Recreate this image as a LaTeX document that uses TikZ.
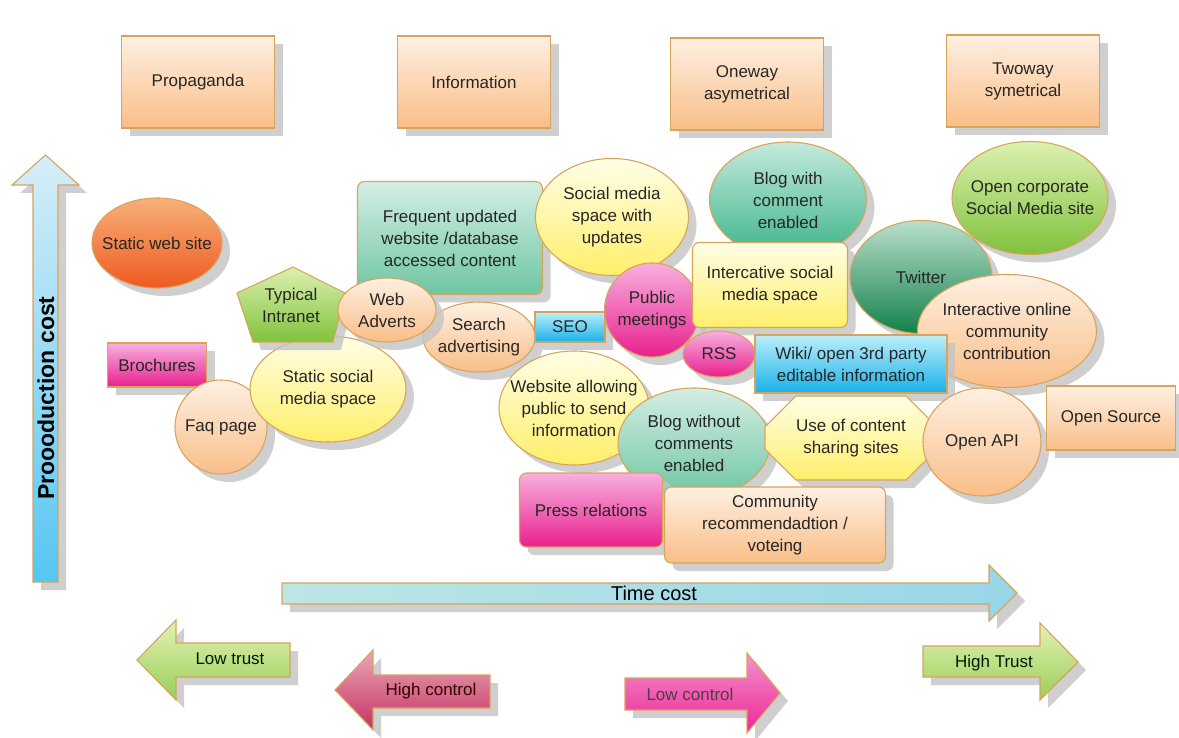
\documentclass[tikz,border=0pt]{standalone}
\usepackage{fontspec}
\setmainfont{Liberation Sans}
\usepackage{tikz}
\usetikzlibrary{shapes.geometric,shapes.misc,shadows}
\definecolor{edgeor}{HTML}{D8A45C}
\definecolor{peachtop}{HTML}{FEF0E2}
\definecolor{peachbot}{HTML}{F9BE88}
\definecolor{redtop}{HTML}{F8B07A}
\definecolor{redbot}{HTML}{EE5A20}
\definecolor{magtop}{HTML}{F8B0DE}
\definecolor{magbot}{HTML}{E8208E}
\definecolor{yeltop}{HTML}{FFFEE6}
\definecolor{yelbot}{HTML}{FFEF6A}
\definecolor{tealtop}{HTML}{D4EEE4}
\definecolor{tealbot}{HTML}{6EC6A2}
\definecolor{bwtop}{HTML}{C4EADB}
\definecolor{bwbot}{HTML}{3BB488}
\definecolor{greentop}{HTML}{DCF1B0}
\definecolor{greenbot}{HTML}{80C23C}
\definecolor{twtop}{HTML}{B9E0CC}
\definecolor{twbot}{HTML}{13804A}
\definecolor{cyantop}{HTML}{BCEEFA}
\definecolor{cyanbot}{HTML}{18B2EA}
\definecolor{trusttop}{HTML}{E4F2B4}
\definecolor{trustbot}{HTML}{98CE58}
\definecolor{hctop}{HTML}{E9A7B8}
\definecolor{hcbot}{HTML}{C43260}
\definecolor{lctop}{HTML}{F690CC}
\definecolor{lcbot}{HTML}{EA2896}
\definecolor{skytop}{HTML}{D6EEF8}
\definecolor{skybot}{HTML}{56C6F2}
\definecolor{timetop}{HTML}{BCE6E4}
\definecolor{timebot}{HTML}{98D6E8}
\definecolor{shadowgray}{HTML}{C4C4C4}

\begin{document}
\begin{tikzpicture}[
  x=1pt, y=-1pt,
  every node/.style={font=\fontsize{17}{22}\selectfont, text=black!85, align=center},
  base/.style={draw=edgeor, line width=1.1pt,
               drop shadow={shadow xshift=8pt, shadow yshift=-8pt, fill=shadowgray, opacity=0.8}},
  boxnode/.style={base, rectangle, inner sep=2pt},
  roundbox/.style={boxnode, rounded corners=7pt},
  bubble/.style={base, ellipse, inner xsep=-40pt, inner ysep=-30pt},
  fillpeach/.style={top color=peachtop, bottom color=peachbot},
  fillred/.style={top color=redtop, bottom color=redbot},
  fillmag/.style={top color=magtop, bottom color=magbot},
  fillyel/.style={top color=yeltop, bottom color=yelbot},
  fillteal/.style={top color=tealtop, bottom color=tealbot},
  fillbw/.style={top color=bwtop, bottom color=bwbot},
  fillgreen/.style={top color=greentop, bottom color=greenbot},
  filltw/.style={top color=twtop, bottom color=twbot},
  fillcyan/.style={top color=cyantop, bottom color=cyanbot},
  filltrust/.style={top color=trusttop, bottom color=trustbot},
  fillhc/.style={top color=hctop, bottom color=hcbot},
  filllc/.style={top color=lctop, bottom color=lcbot},
  fillsky/.style={top color=skytop, bottom color=skybot},
  filltime/.style={left color=timetop, right color=timebot}
]
  \useasboundingbox[fill=white] (0,0) rectangle (1179,738);

  % the four models
  \node[boxnode, fillpeach, minimum width=153, minimum height=92] (prop) at (198,82) {Propaganda};
  \node[boxnode, fillpeach, minimum width=153, minimum height=92] (info) at (474,82) {Information};
  \node[boxnode, fillpeach, minimum width=153, minimum height=92] (oneway) at (747,84) {Oneway\\asymetrical};
  \node[boxnode, fillpeach, minimum width=153, minimum height=92] (twoway) at (1023,81) {Twoway\\symetrical};

  % axes
  \draw[base, fillsky] (33,582) -- (33,185) -- (12,185) -- (45.5,155) -- (79,185) -- (58,185) -- (58,582) -- cycle;
  \node[rotate=90, font=\bfseries\fontsize{23}{26}\selectfont, text=black] (prodcost) at (46,398) {Proooduction cost};
  \draw[base, filltime] (282,583) -- (989,583) -- (989,565) -- (1017,593) -- (989,621) -- (989,604) -- (282,604) -- cycle;
  \node[font=\fontsize{20}{24}\selectfont, text=black] (timecost) at (654,593) {Time cost};

  \draw[base, filltrust] (290,643) -- (176,643) -- (176,620) -- (137,660) -- (176,700) -- (176,677) -- (290,677) -- cycle;
  \node[text=black!75!green!40!black] (lowtrust) at (230,659) {Low trust};
  \draw[base, fillhc] (490,675) -- (373,675) -- (373,650) -- (335,690) -- (373,730) -- (373,708) -- (490,708) -- cycle;
  \node[text=black!80!red] (highctrl) at (431,691) {High control};
  \draw[base, filllc] (625,678) -- (747,678) -- (747,653) -- (780,693) -- (747,733) -- (747,710) -- (625,710) -- cycle;
  \node[text=black!80!magenta] (lowctrl) at (690,694) {Low control};
  \draw[base, filltrust] (923,646) -- (1040,646) -- (1040,623) -- (1078,662) -- (1040,700) -- (1040,677) -- (923,677) -- cycle;
  \node[text=black!75!green!40!black] (hightrust) at (994,663) {High Trust};

  % left group
  \node[bubble, fillred, minimum width=130, minimum height=90] (staticweb) at (157,243) {Static web site};
  \node[boxnode, fillmag, minimum width=99, minimum height=44] (brochures) at (157,365) {Brochures};
  \node[bubble, fillpeach, minimum width=92, minimum height=94] (faq) at (221,427) {Faq page};
  \node[bubble, fillyel, minimum width=156, minimum height=106] (staticsocial) at (328,389) {Static social\\media space};
  \draw[base, fillgreen] (293,267) -- (345,293) -- (333,342) -- (253,342) -- (237,293) -- cycle;
  \node (intranet) at (291,305) {Typical\\Intranet};

  % information group
  \node[roundbox, fillteal, minimum width=185, minimum height=113] (freq) at (450,238) {Frequent updated\\website /database\\accessed content};
  \node[bubble, fillpeach, minimum width=112, minimum height=70] (search) at (479,337) {Search\\advertising};
  \node[bubble, fillpeach, minimum width=98, minimum height=64] (webadv) at (387,310) {Web\\Adverts};
  \node[bubble, fillyel, minimum width=153, minimum height=117] (socupd) at (612,217) {Social media\\space with\\updates};
  \node[boxnode, fillcyan, minimum width=70, minimum height=30, inner sep=1pt] (seo) at (570,327) {SEO};
  \node[bubble, fillmag, minimum width=95, minimum height=94] (pubmeet) at (652,310) {Public\\meetings};

  % one way group
  \node[bubble, fillbw, minimum width=157, minimum height=116] (blogwith) at (788,200) {Blog with\\comment\\enabled};
  \node[roundbox, fillyel, minimum width=155, minimum height=85] (intersocial) at (770,285) {Intercative social\\media space};
  \node[bubble, filltw, minimum width=142, minimum height=113] (twitter) at (921,277) {Twitter};
  \node[bubble, fillgreen, minimum width=156, minimum height=113] (opencorp) at (1030,198) {Open corporate\\Social Media site};
  \node[bubble, fillpeach, minimum width=179, minimum height=113] (interonline) at (1007,331) {Interactive online\\community\\contribution};
  \node[bubble, fillmag, minimum width=72, minimum height=46] (rss) at (719,354) {RSS};
  \node[boxnode, fillcyan, minimum width=192, minimum height=58] (wiki) at (851,364) {Wiki/ open 3rd party\\editable information};

  % lower group
  \node[bubble, fillyel, minimum width=150, minimum height=114] (websend) at (574,408) {Website allowing\\public to send\\information};
  \node[bubble, fillteal, minimum width=152, minimum height=110] (blogwithout) at (694,443) {Blog without\\comments\\enabled};
  \node[base, fillyel, chamfered rectangle, chamfered rectangle xsep=22pt, chamfered rectangle ysep=12pt,
        minimum width=172, minimum height=84, inner sep=0pt] (usecontent) at (851,438) {Use of content\\sharing sites};
  \node[bubble, fillpeach, minimum width=118, minimum height=108] (openapi) at (982,442) {Open API};
  \node[boxnode, fillpeach, minimum width=129, minimum height=64] (opensource) at (1111,418) {Open Source};
  \node[roundbox, fillmag, minimum width=143, minimum height=74] (press) at (591,510) {Press relations};
  \node[roundbox, fillpeach, minimum width=221, minimum height=76] (community) at (775,525) {Community\\recommendadtion /\\voteing};
\end{tikzpicture}
\end{document}
